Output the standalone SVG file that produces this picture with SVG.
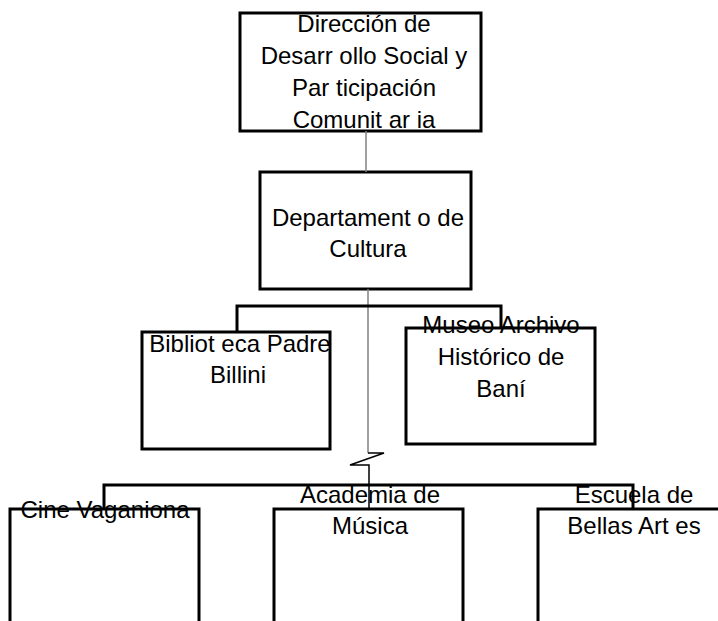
<svg xmlns="http://www.w3.org/2000/svg" width="718" height="621" viewBox="0 0 718 621">
<style>
.box{fill:none;stroke:#000;stroke-width:3}
.t{font-family:"Liberation Sans",Arial,sans-serif;font-size:24px;fill:#000;text-anchor:middle}
.bracket{fill:none;stroke:#000;stroke-width:3}
.thin{fill:none;stroke:#808080;stroke-width:1.5}
.zig{fill:none;stroke:#000;stroke-width:1.5}
</style>
<rect width="718" height="621" fill="#fff"/>
<g id="direccion">
<text class="t" x="364" y="32">Dirección de</text>
<text class="t" x="364" y="64">Desarr ollo Social y</text>
<text class="t" x="364" y="96">Par ticipación</text>
<text class="t" x="364" y="128">Comunit ar ia</text>
<rect class="box" x="240" y="13" width="241" height="118"/>
</g>
<g id="departamento">
<text class="t" x="368" y="226">Departament o de</text>
<text class="t" x="368" y="257">Cultura</text>
<rect class="box" x="260" y="172" width="211" height="117"/>
</g>
<g id="biblioteca">
<text class="t" x="240" y="352">Bibliot eca Padre</text>
<text class="t" x="238" y="383">Billini</text>
<rect class="box" x="142" y="332" width="188" height="117"/>
</g>
<g id="museo">
<text class="t" x="501" y="333">Museo Archivo</text>
<text class="t" x="501" y="365">Histórico de</text>
<text class="t" x="501" y="397">Baní</text>
<rect class="box" x="406" y="328" width="189" height="116"/>
</g>
<g id="cine">
<text class="t" x="105" y="518">Cine Vaganiona</text>
<rect class="box" x="10" y="509" width="189" height="130"/>
</g>
<g id="academia">
<text class="t" x="370" y="503">Academia de</text>
<text class="t" x="370" y="534">Música</text>
<rect class="box" x="274" y="509" width="189" height="130"/>
</g>
<g id="escuela">
<text class="t" x="634" y="503">Escuela de</text>
<text class="t" x="634" y="534">Bellas Art es</text>
<rect class="box" x="538" y="509" width="189" height="130"/>
</g>
<g id="connectors">
<path class="thin" d="M366 131V172"/>
<path class="thin" d="M368 289V453"/>
<path class="zig" d="M368 453H384L350 465H369V509"/>
<path class="bracket" d="M237 332V306H501V328"/>
<path class="bracket" d="M104 509V485H633V509"/>
</g>
</svg>
